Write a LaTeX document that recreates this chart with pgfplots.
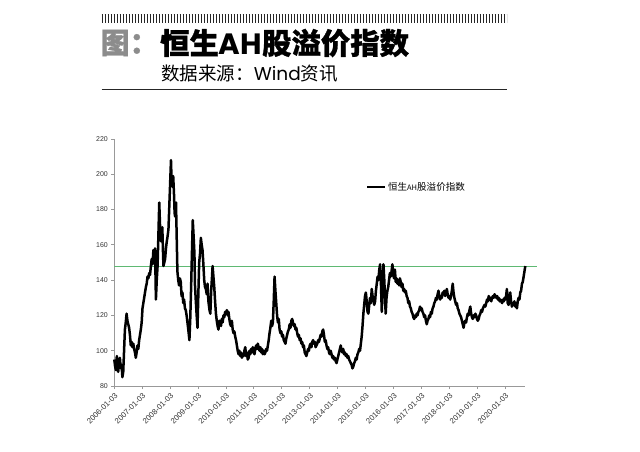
\documentclass[border=0pt]{standalone}
\usepackage{fontspec}
\setmainfont{Liberation Sans}
\newfontfamily\cjk{Noto Sans CJK SC}
\newfontfamily\pop{Poppins}
\usepackage{pgfplots}
\usepackage{pgfplotstable}
\pgfplotsset{compat=1.18}
\definecolor{refgreen}{RGB}{95,185,115}
\pgfplotstableread{
x y
2006.00 95
2006.03 91
2006.06 89
2006.09 97
2006.11 93
2006.14 88
2006.17 94
2006.20 96
2006.23 90
2006.26 92
2006.29 85
2006.32 88
2006.35 100
2006.38 112
2006.41 116
2006.44 121
2006.47 117
2006.50 115
2006.53 113
2006.56 109
2006.59 103
2006.62 105
2006.65 102
2006.68 104
2006.71 101
2006.74 99
2006.77 96
2006.80 99
2006.83 103
2006.86 101
2006.89 106
2006.92 109
2006.95 112
2006.98 116
2007.01 124
2007.04 127
2007.07 130
2007.10 133
2007.13 136
2007.16 138
2007.19 142
2007.22 141
2007.25 144
2007.28 143
2007.31 148
2007.34 152
2007.37 149
2007.40 157
2007.43 153
2007.46 158
2007.49 129
2007.52 140
2007.55 148
2007.58 166
2007.61 184
2007.64 170
2007.67 162
2007.70 166
2007.72 170
2007.74 158
2007.76 148
2007.79 150
2007.82 152
2007.85 158
2007.88 162
2007.91 165
2007.94 169
2007.97 182
2008.00 195
2008.03 208
2008.05 197
2008.08 193
2008.11 199
2008.14 188
2008.16 178
2008.18 176
2008.21 184
2008.23 168
2008.26 145
2008.29 140
2008.32 137
2008.35 141
2008.38 139
2008.41 131
2008.44 133
2008.47 127
2008.50 129
2008.53 124
2008.56 123
2008.59 120
2008.62 116
2008.65 112
2008.69 106
2008.72 118
2008.75 135
2008.78 155
2008.81 174
2008.84 165
2008.87 155
2008.89 137
2008.92 128
2008.95 120
2008.98 113
2009.01 132
2009.04 150
2009.07 155
2009.10 164
2009.13 160
2009.16 157
2009.19 149
2009.22 140
2009.25 136
2009.28 135
2009.31 132
2009.34 138
2009.37 128
2009.41 123
2009.44 121
2009.47 134
2009.50 142
2009.52 148
2009.55 142
2009.58 136
2009.61 128
2009.64 121
2009.67 117
2009.70 114
2009.73 112
2009.76 117
2009.79 116
2009.82 114
2009.85 118
2009.88 116
2009.91 120
2009.94 119
2009.97 122
2010.00 121
2010.03 123
2010.06 120
2010.09 122
2010.12 118
2010.15 115
2010.18 114
2010.21 117
2010.24 112
2010.27 110
2010.30 111
2010.33 108
2010.36 106
2010.39 103
2010.42 100
2010.45 98
2010.48 100
2010.51 97
2010.54 99
2010.57 96
2010.60 98
2010.63 97
2010.66 100
2010.69 102
2010.72 97
2010.75 99
2010.78 95
2010.81 96
2010.84 100
2010.87 98
2010.90 101
2010.93 99
2010.96 102
2010.99 100
2011.02 98
2011.05 101
2011.08 103
2011.11 101
2011.14 104
2011.17 102
2011.20 100
2011.23 102
2011.26 99
2011.29 101
2011.32 98
2011.35 100
2011.38 98
2011.41 99
2011.44 101
2011.47 100
2011.50 103
2011.53 106
2011.56 110
2011.59 113
2011.62 117
2011.65 114
2011.68 116
2011.71 128
2011.74 142
2011.77 134
2011.80 127
2011.83 120
2011.86 116
2011.89 118
2011.92 112
2011.95 110
2011.98 111
2012.01 108
2012.04 109
2012.07 106
2012.10 105
2012.13 104
2012.16 107
2012.19 109
2012.22 111
2012.25 112
2012.28 115
2012.31 113
2012.34 117
2012.37 118
2012.40 116
2012.43 114
2012.46 115
2012.49 112
2012.52 113
2012.55 110
2012.58 108
2012.61 109
2012.64 106
2012.67 107
2012.70 104
2012.73 105
2012.76 102
2012.79 103
2012.82 99
2012.85 98
2012.88 97
2012.91 99
2012.94 101
2012.97 100
2013.00 103
2013.03 104
2013.06 102
2013.09 105
2013.12 106
2013.15 104
2013.18 105
2013.21 102
2013.24 103
2013.27 104
2013.30 106
2013.33 105
2013.36 107
2013.39 109
2013.42 108
2013.45 111
2013.48 112
2013.51 109
2013.54 105
2013.57 106
2013.60 103
2013.63 101
2013.66 102
2013.69 99
2013.72 98
2013.75 100
2013.78 98
2013.81 96
2013.84 97
2013.87 95
2013.90 96
2013.93 94
2013.96 93
2013.99 95
2014.02 97
2014.05 99
2014.08 101
2014.11 103
2014.14 100
2014.17 99
2014.20 101
2014.23 98
2014.26 99
2014.29 97
2014.32 98
2014.35 96
2014.38 97
2014.41 95
2014.44 94
2014.47 93
2014.50 92
2014.53 90
2014.56 91
2014.59 93
2014.62 94
2014.65 96
2014.68 95
2014.71 98
2014.74 99
2014.77 101
2014.80 100
2014.83 104
2014.86 108
2014.89 114
2014.92 121
2014.95 126
2014.98 131
2015.01 133
2015.04 128
2015.07 122
2015.10 121
2015.13 126
2015.16 130
2015.19 127
2015.22 135
2015.25 131
2015.28 129
2015.31 126
2015.34 128
2015.37 134
2015.40 138
2015.43 142
2015.46 140
2015.49 146
2015.52 149
2015.55 138
2015.58 122
2015.61 136
2015.64 149
2015.67 140
2015.70 128
2015.72 121
2015.75 130
2015.78 134
2015.81 136
2015.84 140
2015.87 144
2015.90 142
2015.93 145
2015.96 149
2015.99 143
2016.02 141
2016.05 146
2016.08 139
2016.11 141
2016.14 138
2016.17 140
2016.20 137
2016.23 141
2016.26 139
2016.29 136
2016.32 138
2016.35 134
2016.38 135
2016.41 133
2016.44 134
2016.47 131
2016.50 130
2016.53 127
2016.56 128
2016.59 125
2016.62 124
2016.65 122
2016.68 121
2016.71 119
2016.74 118
2016.77 120
2016.80 119
2016.83 121
2016.86 120
2016.89 122
2016.92 123
2016.95 125
2016.98 123
2017.01 124
2017.04 122
2017.07 121
2017.10 119
2017.13 120
2017.16 117
2017.19 115
2017.22 117
2017.25 118
2017.28 120
2017.31 119
2017.34 122
2017.37 121
2017.40 124
2017.43 125
2017.46 127
2017.49 128
2017.52 130
2017.55 129
2017.58 132
2017.61 134
2017.64 131
2017.67 129
2017.70 131
2017.73 130
2017.76 133
2017.79 132
2017.82 134
2017.85 131
2017.88 133
2017.91 135
2017.94 132
2017.97 130
2018.00 131
2018.03 129
2018.06 131
2018.09 134
2018.12 138
2018.15 133
2018.18 130
2018.21 128
2018.24 126
2018.27 127
2018.30 124
2018.33 123
2018.36 121
2018.39 120
2018.42 119
2018.45 117
2018.48 115
2018.51 113
2018.54 116
2018.57 117
2018.60 116
2018.63 119
2018.66 121
2018.69 120
2018.72 123
2018.75 125
2018.78 121
2018.81 119
2018.84 118
2018.87 120
2018.90 119
2018.93 121
2018.96 120
2018.99 118
2019.02 117
2019.05 118
2019.08 120
2019.11 121
2019.14 123
2019.17 122
2019.20 124
2019.23 125
2019.26 126
2019.29 125
2019.32 127
2019.35 129
2019.38 128
2019.41 131
2019.44 129
2019.47 130
2019.50 128
2019.53 130
2019.56 131
2019.59 130
2019.62 132
2019.65 131
2019.68 130
2019.71 131
2019.74 129
2019.77 130
2019.80 128
2019.83 129
2019.86 128
2019.89 127
2019.92 129
2019.95 128
2019.98 130
2020.01 129
2020.04 132
2020.06 135
2020.09 127
2020.12 126
2020.15 130
2020.18 133
2020.21 128
2020.24 125
2020.27 127
2020.30 126
2020.33 128
2020.36 125
2020.39 127
2020.42 124
2020.45 128
2020.48 130
2020.51 129
2020.54 133
2020.57 134
2020.60 138
2020.63 139
2020.66 142
2020.69 145
2020.72 148
}\ahdata
\begin{document}
\begin{tikzpicture}
\useasboundingbox (0,0) rectangle (640bp,-452bp);
\fill[white] (0,0) rectangle (640bp,-452bp);
% header
\draw[line width=9bp, black!85, dash pattern=on 1.5bp off 1.5bp] (101.7bp,-18.5bp) -- (506.7bp,-18.5bp);
\node[anchor=west, inner sep=0, text=black!45] at (100.5bp,-43bp) {\cjk\bfseries\addfontfeature{FakeBold=1}\fontsize{29}{30}\selectfont 图：};
\node[anchor=west, inner sep=0] at (160bp,-43bp) {\cjk\bfseries\addfontfeature{FakeBold=1}\fontsize{29.5}{30}\selectfont 恒生{\pop\bfseries AH}股溢价指数};
\node[anchor=west, inner sep=0] at (161bp,-74bp) {\cjk\fontsize{18.6}{20}\selectfont 数据来源：{\pop Wind}资讯};
\draw[line width=1.5bp, black!85] (101.7bp,-89.3bp) -- (507bp,-89.3bp);
\begin{axis}[
  at={(114.3bp,-386bp)}, anchor=south west,
  scale only axis, width=411bp, height=247bp,
  xmin=2006, xmax=2020.72, ymin=80, ymax=220,
  axis x line=bottom, axis y line=left,
  axis line style={-, black!40, line width=0.8bp},
  xtick={2006,2007,...,2020},
  xticklabels={2006-01-03,2007-01-03,2008-01-03,2009-01-03,2010-01-03,2011-01-03,2012-01-03,2013-01-03,2014-01-03,2015-01-03,2016-01-03,2017-01-03,2018-01-03,2019-01-03,2020-01-03},
  ytick={80,100,...,220},
  tick align=outside, major tick length=3bp,
  tick style={black!40, line width=0.8bp},
  /pgf/number format/assume math mode=true,
  yticklabel style={font=\fontsize{7}{8}\selectfont, text=black!80},
  xticklabel style={font=\fontsize{7.8}{8}\selectfont, text=black!80, rotate=45, anchor=north east, inner sep=2.5bp},
  clip=false,
  legend style={at={(0.612,0.806)}, anchor=west, draw=none, fill=none, font=\cjk\fontsize{9.6}{10}\selectfont, inner sep=0pt},
  legend cell align=left,
  legend image code/.code={\draw[#1, line width=2bp] (0bp,0bp) -- (18bp,0bp);},
]
\addplot[color=refgreen, line width=0.8bp, forget plot] coordinates {(2006,148) (2021.15,148)};
\addplot[black, line width=2.5bp, line join=round] table[x=x, y=y] {\ahdata};
\addlegendentry{恒生{\fontsize{7.5}{8}\selectfont AH}股溢价指数}
\end{axis}
\end{tikzpicture}
\end{document}
